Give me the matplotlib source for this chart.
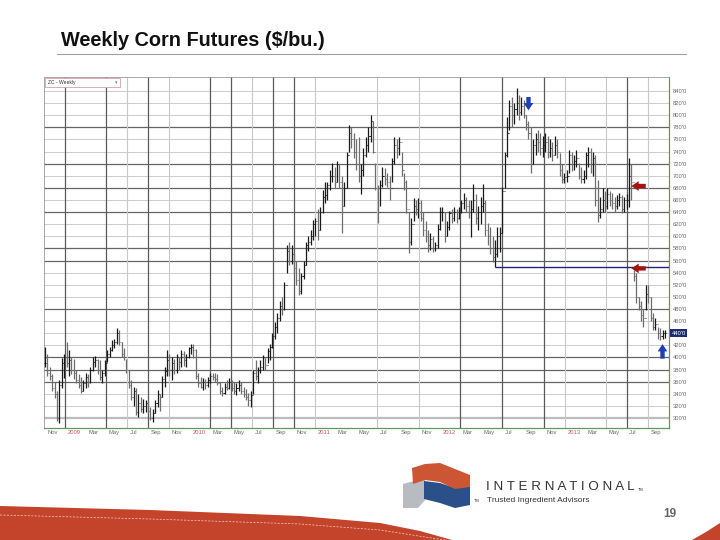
import matplotlib
matplotlib.use("Agg")
import matplotlib.pyplot as plt
import pandas as pd
from matplotlib.patches import Polygon, Rectangle

plt.rcParams['font.family'] = ['Liberation Sans', 'DejaVu Sans']

# --- weekly corn futures bars (cents/bu), Nov 2008 -> Oct 2013 ---
highs = [417, 405, 385, 372, 360, 345, 362, 399, 405, 425,
         412, 400, 398, 379, 372, 367, 362, 375, 372, 385,
         400, 402, 398, 395, 380, 395, 412, 418, 428, 430,
         448, 445, 425, 415, 398, 380, 362, 351, 350, 340,
         334, 332, 330, 328, 318, 315, 330, 346, 340, 370,
         384, 412, 405, 400, 398, 405, 400, 412, 410, 405,
         418, 423, 422, 414, 374, 368, 366, 365, 368, 375,
         375, 374, 372, 359, 352, 358, 362, 366, 362, 360,
         358, 362, 360, 352, 348, 342, 345, 380, 395, 385,
         395, 404, 400, 415, 423, 440, 458, 473, 494, 500,
         524, 585, 590, 585, 572, 560, 548, 540, 560, 590,
         600, 610, 627, 630, 645, 648, 676, 690, 690, 710,
         721, 715, 725, 720, 700, 690, 740, 784, 780, 770,
         760, 764, 720, 745, 764, 780, 800, 790, 721, 685,
         693, 714, 712, 705, 700, 730, 764, 760, 764, 740,
         704, 693, 640, 630, 663, 660, 663, 660, 640, 625,
         610, 605, 600, 590, 620, 648, 648, 640, 625, 642,
         645, 648, 645, 648, 660, 671, 665, 660, 660, 686,
         670, 650, 665, 686, 660, 622, 615, 600, 594, 615,
         615, 681, 740, 797, 825, 830, 820, 845, 833, 830,
         825, 800, 790, 780, 760, 770, 775, 770, 765, 770,
         765, 760, 755, 765, 760, 737, 720, 705, 710, 742,
         740, 735, 742, 721, 715, 710, 740, 747, 745, 740,
         735, 693, 665, 680, 675, 680, 675, 671, 665, 668,
         671, 668, 665, 670, 729, 720, 544, 540, 500, 494,
         480, 519, 520, 500, 473, 465, 450, 448, 445, 445]
lows = [385, 370, 362, 345, 333, 295, 291, 350, 366, 384,
        370, 372, 365, 357, 350, 341, 345, 350, 352, 358,
        378, 384, 372, 362, 357, 370, 392, 400, 410, 415,
        423, 420, 400, 395, 375, 350, 329, 320, 305, 301,
        310, 308, 310, 306, 296, 293, 308, 318, 312, 335,
        351, 370, 370, 362, 372, 375, 380, 385, 386, 384,
        399, 405, 399, 365, 352, 349, 346, 348, 352, 358,
        362, 360, 355, 340, 337, 340, 346, 348, 345, 340,
        338, 345, 340, 335, 330, 320, 318, 340, 362, 357,
        375, 379, 380, 390, 395, 415, 430, 440, 460, 470,
        478, 540, 552, 555, 540, 520, 503, 505, 530, 552,
        575, 585, 594, 600, 594, 610, 638, 655, 660, 676,
        690, 680, 690, 680, 605, 650, 680, 740, 745, 730,
        710, 690, 670, 700, 731, 740, 755, 737, 676, 622,
        650, 681, 685, 681, 660, 690, 720, 730, 735, 700,
        676, 638, 572, 585, 625, 635, 630, 625, 600, 590,
        574, 578, 574, 575, 580, 610, 625, 590, 600, 610,
        622, 625, 622, 628, 638, 645, 640, 630, 599, 640,
        620, 610, 620, 640, 600, 585, 570, 557, 549, 565,
        574, 605, 680, 731, 776, 780, 785, 800, 792, 800,
        795, 776, 760, 704, 720, 735, 740, 735, 731, 740,
        730, 731, 725, 735, 730, 700, 688, 688, 690, 704,
        708, 710, 715, 695, 688, 688, 695, 715, 705, 700,
        650, 623, 630, 640, 640, 645, 650, 645, 640, 645,
        650, 638, 640, 645, 648, 660, 527, 490, 478, 460,
        450, 478, 490, 460, 445, 445, 430, 428, 430, 432]
closes = [390, 375, 370, 350, 340, 300, 355, 390, 400, 390,
          395, 380, 375, 362, 355, 345, 358, 368, 360, 380,
          392, 395, 380, 368, 375, 390, 405, 412, 420, 425,
          440, 425, 405, 400, 380, 355, 335, 345, 310, 325,
          315, 320, 325, 312, 300, 308, 325, 340, 335, 365,
          378, 395, 380, 390, 380, 400, 392, 405, 395, 400,
          415, 418, 412, 370, 358, 352, 360, 355, 362, 370,
          368, 365, 358, 345, 342, 352, 350, 360, 350, 345,
          350, 355, 345, 340, 335, 330, 338, 375, 370, 380,
          385, 400, 388, 410, 418, 435, 450, 465, 485, 480,
          520, 575, 560, 570, 548, 528, 510, 535, 552, 585,
          590, 600, 620, 625, 610, 640, 665, 668, 685, 700,
          700, 690, 720, 690, 650, 680, 735, 770, 760, 740,
          720, 700, 710, 735, 750, 765, 790, 740, 680, 640,
          685, 700, 695, 690, 680, 725, 750, 745, 755, 710,
          690, 645, 590, 620, 650, 645, 655, 630, 610, 600,
          585, 595, 580, 585, 612, 640, 640, 600, 615, 638,
          630, 640, 630, 640, 655, 660, 650, 640, 645, 660,
          630, 640, 650, 655, 610, 600, 580, 565, 570, 600,
          605, 675, 735, 770, 815, 800, 810, 820, 805, 815,
          800, 785, 770, 720, 750, 760, 755, 745, 750, 755,
          740, 745, 735, 750, 740, 710, 695, 698, 700, 735,
          720, 725, 730, 700, 695, 700, 735, 740, 720, 730,
          660, 635, 645, 660, 650, 670, 660, 655, 650, 660,
          665, 645, 660, 660, 700, 690, 535, 500, 485, 470,
          465, 505, 500, 465, 450, 455, 440, 435, 440, 440]

weeks = pd.date_range('2008-11-03', periods=len(highs), freq='W-MON')
opens = [closes[0]] + closes[:-1]

price_ticks = list(range(300, 860, 20))
dark_levels = [780, 720, 680, 640, 580, 560, 480, 400, 380, 360]
label_months = pd.date_range('2008-11-01', '2013-09-01', freq='2MS')
dark_months = ['2009-01', '2009-05', '2009-09', '2010-03', '2010-05', '2010-09',
               '2010-11', '2012-03', '2012-07', '2012-11', '2013-07']
light_months = ['2009-07', '2009-11', '2010-07', '2011-01', '2011-07', '2011-11',
                '2013-01', '2013-05', '2013-09']
support_level = 549
last_price = 440

W, H = 720, 540
fig = plt.figure(figsize=(7.2, 5.4), dpi=100)

# background overlay in pixel coordinates
bg = fig.add_axes([0, 0, 1, 1], zorder=0)
bg.set_xlim(0, W)
bg.set_ylim(H, 0)
bg.axis('off')

ax = fig.add_axes([44 / W, 1 - 428 / H, 625 / W, 351 / H], zorder=2)
ax.set_xlim(pd.Timestamp('2008-10-31'), pd.Timestamp('2013-11-02'))
ax.set_ylim(283.5, 863)

# grid
for lv in price_ticks:
    ax.axhline(lv, color='#666666' if lv in dark_levels else '#cccccc',
               lw=0.9 if lv in dark_levels else 0.7, zorder=1)
ax.axhline(300, color='#bdbdbd', lw=1.6, zorder=1)
for m in dark_months:
    ax.axvline(pd.Timestamp(m + '-01'), color='#5a5a5a', lw=0.9, zorder=1)
for m in light_months:
    ax.axvline(pd.Timestamp(m + '-01'), color='#c8c8c8', lw=0.8, zorder=1)

# OHLC bars
half = pd.Timedelta(days=3)
up_col, dn_col = '#1a1a1a', '#6e6e6e'
cols = [up_col if c >= o else dn_col for o, c in zip(opens, closes)]
ax.vlines(weeks, lows, highs, colors=cols, lw=0.9, zorder=3)
ax.hlines(opens, weeks - half, weeks, colors=cols, lw=0.7, zorder=3)
ax.hlines(closes, weeks, weeks + half, colors=cols, lw=0.7, zorder=3)

# support line from the June 2012 low
low_week = weeks[lows.index(support_level)]
ax.hlines(support_level, low_week, pd.Timestamp('2013-11-02'), colors='#23237a', lw=1.0, zorder=4)

# block arrows
arrow_style = 'simple,head_width=1.0,head_length=0.75,tail_width=0.45'
red_arrow = dict(arrowstyle=arrow_style, color='#a31515', mutation_scale=7,
                 lw=0, shrinkA=0, shrinkB=0)
blue_arrow = dict(arrowstyle=arrow_style, color='#1f3fb8', mutation_scale=7,
                  lw=0, shrinkA=0, shrinkB=0)
ax.annotate('', xy=(weeks[245], 683), xytext=(weeks[251], 683), arrowprops=red_arrow, zorder=5)
ax.annotate('', xy=(weeks[245], 547), xytext=(weeks[251], 547), arrowprops=red_arrow, zorder=5)
ax.annotate('', xy=(weeks[202], 808), xytext=(weeks[202], 830), arrowprops=blue_arrow, zorder=5)
ax.annotate('', xy=(weeks[258], 422), xytext=(weeks[258], 398), arrowprops=blue_arrow, zorder=5)

# axes styling
for s in ['top', 'left']:
    ax.spines[s].set_color('#9a9a9a')
    ax.spines[s].set_linewidth(0.6)
for s in ['right', 'bottom']:
    ax.spines[s].set_color('#5e9a5e')
    ax.spines[s].set_linewidth(0.9)
ax.yaxis.tick_right()
ax.set_yticks(price_ticks)
ax.set_yticklabels(['' if v == last_price else f"{v}'0" for v in price_ticks])
ax.tick_params(axis='y', length=0, pad=3, labelsize=4.2, labelcolor='#6a6a6a')
ax.set_xticks([])

xt = ax.get_xaxis_transform()
for d in label_months:
    txt = str(d.year) if d.month == 1 else d.strftime('%b')
    ax.text(d + pd.Timedelta(days=8), -0.014, txt, transform=xt, fontsize=4.2,
            color='#d0506a' if d.month == 1 else '#6a6a6a', ha='left', va='center',
            clip_on=False)

# last price box
ax.text(1.004, last_price, f"{last_price}'0", transform=ax.get_yaxis_transform(),
        fontsize=4.2, color='white', ha='left', va='center', clip_on=False, zorder=6,
        bbox=dict(boxstyle='square,pad=0.25', fc='#1c2a78', ec='none'))

# selector box top-left
ax.add_patch(Rectangle((0.002, 0.972), 0.12, 0.024, transform=ax.transAxes,
                       fc='white', ec='#d9a0a8', lw=0.6, zorder=6))
ax.text(0.006, 0.984, 'ZC - Weekly', transform=ax.transAxes, fontsize=3.6,
        color='#333333', va='center', zorder=7)
ax.text(0.117, 0.984, '\u25be', transform=ax.transAxes, fontsize=3.6,
        color='#777777', va='center', ha='right', zorder=7)

# title and rule
fig.text(61 / W, 1 - 40 / H, 'Weekly Corn Futures ($/bu.)', fontsize=14.3,
         fontweight='bold', color='#111111', va='center', ha='left')
bg.plot([57, 686], [54, 54], color='#a0a0a0', lw=0.8)

# logo
bg.add_patch(Polygon([(403, 484), (414, 481), (425, 480), (425, 500), (418, 508), (403, 508)],
                     closed=True, fc='#b8bcc2', ec='none'))
bg.add_patch(Polygon([(424, 481), (440, 483), (455, 488), (470, 486), (470, 505),
                      (455, 508), (440, 503), (424, 499)], closed=True, fc='#2b4f88', ec='none'))
bg.add_patch(Polygon([(412, 468), (425, 464), (440, 463), (455, 469), (470, 475),
                      (470, 487), (455, 489), (440, 482), (425, 480), (413, 484)],
                     closed=True, fc='#cc5533', ec='none'))
bg.text(486, 487, 'I N T E R N A T I O N A L', fontsize=9.6, color='#333333',
        ha='left', va='center')
bg.text(638, 490, 'TM', fontsize=2.8, color='#333333', ha='left', va='center')
bg.text(474, 501, 'TM', fontsize=2.8, color='#333333', ha='left', va='center')
bg.text(487, 501, 'Trusted Ingredient Advisors', fontsize=6.0, color='#333333',
        ha='left', va='center')
bg.text(663, 514, '19', fontsize=8.5, fontweight='bold', color='#666666',
        ha='left', va='center')

# bottom swoosh
bg.add_patch(Polygon([(0, 506), (150, 510), (300, 516), (380, 523), (420, 531), (452, 540), (0, 540)],
                     closed=True, fc='#c4432b', ec='none'))
bg.plot([0, 150, 300, 380, 425, 445], [515, 519, 524, 530, 537, 540],
        color='#f3d0c8', lw=0.5, ls=(0, (3, 2)))
bg.add_patch(Polygon([(692, 540), (706, 532), (720, 523), (720, 540)],
                     closed=True, fc='#c4432b', ec='none'))

fig.savefig('out.png', dpi=100)
